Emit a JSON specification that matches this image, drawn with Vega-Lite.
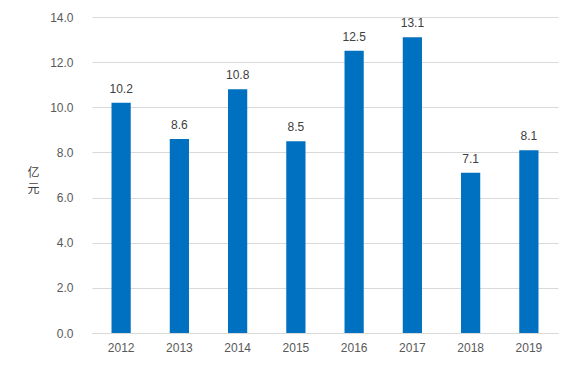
{
  "$schema": "https://vega.github.io/schema/vega-lite/v6.json",
  "width": 466,
  "height": 316,
  "autosize": {"type": "none"},
  "padding": {"left": 92, "top": 17, "right": 20, "bottom": 42},
  "background": "white",
  "config": {
    "view": {"stroke": null},
    "font": "Liberation Sans"
  },
  "data": {
    "values": [
      {"year": "2012", "value": 10.2},
      {"year": "2013", "value": 8.6},
      {"year": "2014", "value": 10.8},
      {"year": "2015", "value": 8.5},
      {"year": "2016", "value": 12.5},
      {"year": "2017", "value": 13.1},
      {"year": "2018", "value": 7.1},
      {"year": "2019", "value": 8.1}
    ]
  },
  "encoding": {
    "x": {
      "field": "year", "type": "nominal",
      "scale": {"paddingInner": 0.67, "paddingOuter": 0.335},
      "axis": {
        "title": null, "labelAngle": 0, "ticks": false,
        "domainColor": "#d9d9d9", "labelColor": "#595959",
        "labelFontSize": 12, "labelPadding": 9
      }
    },
    "y": {
      "field": "value", "type": "quantitative",
      "scale": {"domain": [0, 14]},
      "axis": {
        "values": [0, 2, 4, 6, 8, 10, 12, 14],
        "format": ".1f",
        "domain": false, "ticks": false,
        "gridColor": "#d9d9d9",
        "labelColor": "#595959", "labelFontSize": 12, "labelPadding": 19,
        "title": ["亿", "元"],
        "titleAngle": 0, "titleX": -59, "titleY": 155,
        "titleFont": "Noto Sans CJK SC", "titleFontWeight": "normal",
        "titleFontSize": 12, "titleColor": "#404040",
        "titleLineHeight": 16, "titleAlign": "center", "titleBaseline": "middle"
      }
    }
  },
  "layer": [
    {"mark": {"type": "bar", "color": "#0070C0"}},
    {
      "mark": {"type": "text", "dy": -14, "fontSize": 12, "color": "#404040"},
      "encoding": {"text": {"field": "value", "type": "quantitative", "format": ".1f"}}
    }
  ]
}
